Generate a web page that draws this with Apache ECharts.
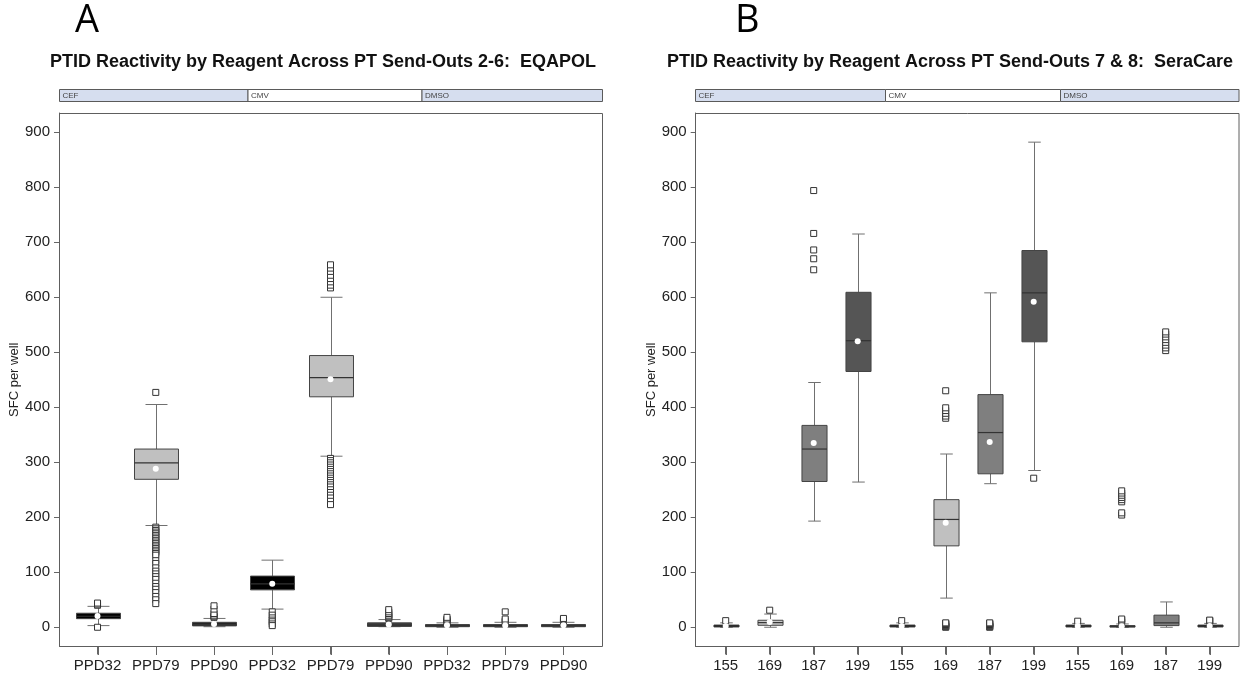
<!DOCTYPE html>
<html>
<head>
<meta charset="utf-8">
<script src="https://cdn.jsdelivr.net/npm/echarts@6/dist/echarts.min.js"></script>
<style>html,body{margin:0;padding:0;background:#fff}#c{width:1252px;height:682px}</style>
</head>
<body>
<div id="c"></div>
<script>
// ---------- DATA ----------
const catsA = ['PPD32','PPD79','PPD90','PPD32','PPD79','PPD90','PPD32','PPD79','PPD90'];
const catsB = ['155','169','187','199','155','169','187','199','155','169','187','199'];
const stripLabels = ['CEF','CMV','DMSO'];
const yTicks = [0,100,200,300,400,500,600,700,800,900];

// [low whisker, Q1, median, Q3, high whisker]
const boxesA = [
  [3, 15.6, 20, 25.5, 38],
  [185, 269, 299, 324, 405],
  [1, 2.5, 5, 9, 16],
  [33, 68, 79, 93, 122],
  [311, 419, 454, 494, 600],
  [1, 1.5, 4, 8, 14],
  [0, 1, 3, 5, 8],
  [0, 1, 2.5, 5, 9],
  [0, 1, 3, 5, 9]
];
const meansA = [20.5, 288, 6, 79, 451, 5, 3.5, 3, 3.5];
const outliersA = [
  [0, 40, 42, 44],
  [427, 182, 179, 176, 173, 170, 167, 164, 161, 158, 155, 152, 149, 146, 143, 140, 137, 134, 131, 121, 116, 108, 102, 97, 92, 87, 80, 74, 69, 63, 56, 50, 43],
  [18, 20, 22, 25, 33, 39],
  [28, 22, 17, 13, 10, 6, 3],
  [617, 622, 628, 634, 640, 647, 653, 659, 307, 303, 299, 295, 291, 287, 283, 279, 275, 271, 267, 263, 259, 255, 250, 245, 240, 235, 229, 223],
  [16, 18, 20, 22, 25, 28, 32],
  [9, 11, 13, 15, 18],
  [10, 12, 15, 28],
  [10, 12, 14, 16]
];

const boxesB = [
  [0, 0.5, 2, 4, 8],
  [0, 3.6, 8.4, 12.7, 24],
  [193, 265, 324, 367, 445],
  [264, 465, 521, 609, 715],
  [0, 0.5, 2, 4, 8],
  [53, 148, 196, 232, 315],
  [261, 279, 354, 423, 608],
  [285, 519, 608, 685, 882],
  [0, 0.5, 2, 4, 7],
  [0, 0.5, 1.5, 3, 6],
  [0, 3, 8, 22, 46],
  [0, 0.5, 2, 4, 7]
];
const meansB = [2.5, 9.6, 335, 520, 2.5, 190, 337, 592, 2.5, 2, null, 2.5];
const outliersB = [
  [12],
  [31],
  [650, 670, 686, 716, 794],
  [],
  [12],
  [0, 1, 2, 3, 5, 6, 7, 8, 380, 384, 389, 394, 399, 430],
  [0, 1, 2, 3, 5, 6, 7, 8],
  [271],
  [11],
  [10, 13, 15, 204, 208, 228, 232, 236, 240, 244, 248],
  [503, 508, 513, 518, 523, 528, 533, 537],
  [11, 12, 13]
];

// ---------- STYLE ----------
const fillA = ['#000000','#c0c0c0','#262626','#000000','#c0c0c0','#3c3c3c','#000000','#262626','#000000'];
const fillB = ['#000000','#c8c8c8','#7f7f7f','#555555','#000000','#c0c0c0','#7f7f7f','#555555','#000000','#000000','#7f7f7f','#000000'];
const FONT = 'Liberation Sans, Arial, sans-serif';
const FRAME = '#5e5e5e';

function boxRender(fills, ratio) {
  return function (params, api) {
    const i = api.value(0);
    const lo = api.coord([i, api.value(1)]);
    const q1 = api.coord([i, api.value(2)]);
    const md = api.coord([i, api.value(3)]);
    const q3 = api.coord([i, api.value(4)]);
    const hi = api.coord([i, api.value(5)]);
    const band = api.size([1, 0])[0];
    const w = band * ratio, cw = w / 2;
    const x = Math.round(lo[0]) + 0.5;
    const wc = '#707070';
    const h = Math.max(q1[1] - q3[1], 1.5);
    return {
      type: 'group',
      children: [
        {type: 'line', shape: {x1: x, y1: hi[1], x2: x, y2: q3[1]}, style: {stroke: wc, lineWidth: 1}},
        {type: 'line', shape: {x1: x, y1: q1[1], x2: x, y2: lo[1]}, style: {stroke: wc, lineWidth: 1}},
        {type: 'line', shape: {x1: x - cw / 2, y1: hi[1], x2: x + cw / 2, y2: hi[1]}, style: {stroke: wc, lineWidth: 1}},
        {type: 'line', shape: {x1: x - cw / 2, y1: lo[1], x2: x + cw / 2, y2: lo[1]}, style: {stroke: wc, lineWidth: 1}},
        {type: 'rect', shape: {x: x - w / 2, y: q3[1], width: w, height: h}, style: {fill: fills[params.dataIndex], stroke: '#444', lineWidth: 1}},
        {type: 'line', shape: {x1: x - w / 2, y1: md[1], x2: x + w / 2, y2: md[1]}, style: {stroke: '#333', lineWidth: 1.2}}
      ]
    };
  };
}

function boxData(boxes) { return boxes.map((b, i) => [i].concat(b)); }
function outData(outs) { const r = []; outs.forEach((arr, i) => arr.forEach(v => r.push([i, v]))); return r; }
function meanData(means) { const r = []; means.forEach((m, i) => { if (m !== null) r.push([i, m]); }); return r; }

function xAxisCfg(cats, gi) {
  return {
    type: 'category', gridIndex: gi, data: cats, boundaryGap: true, position: 'bottom',
    axisLine: {show: true, onZero: false, lineStyle: {color: FRAME, width: 1}},
    axisTick: {show: true, interval: 0, inside: false, alignWithLabel: true, length: 8, lineStyle: {color: '#666'}},
    axisLabel: {interval: 0, fontSize: 15, color: '#222', fontFamily: FONT, margin: 12, hideOverlap: false},
    splitLine: {show: false}
  };
}
function yAxisCfg(gi, offset, gap) {
  return {
    type: 'value', gridIndex: gi, min: -35, max: 935, offset: offset,
    name: 'SFC per well', nameLocation: 'middle', nameGap: gap,
    nameTextStyle: {fontSize: 13, color: '#222', fontFamily: FONT},
    axisLine: {show: true, onZero: false, lineStyle: {color: FRAME, width: 1}},
    axisTick: {show: true, length: 5, lineStyle: {color: '#666'}, customValues: yTicks},
    axisLabel: {fontSize: 15, color: '#222', fontFamily: FONT, margin: 9, customValues: yTicks,
      formatter: v => (yTicks.indexOf(v) >= 0 ? String(v) : '')},
    splitLine: {show: false}
  };
}

function strip(x0, x1, d1, d2) {
  const segs = [[x0, d1], [d1, d2], [d2, x1]];
  const fills = ['#d6deef', '#ffffff', '#d6deef'];
  const els = [];
  segs.forEach((s, k) => {
    els.push({type: 'rect', shape: {x: s[0], y: 89.5, width: s[1] - s[0], height: 12}, style: {fill: fills[k], stroke: '#5a5a5a', lineWidth: 1}, z: 10});
    els.push({type: 'text', x: s[0] + 3, y: 95.5, style: {text: stripLabels[k], fontSize: 8, fill: '#444', fontFamily: FONT, verticalAlign: 'middle'}, z: 11});
  });
  return els;
}

const chart = echarts.init(document.getElementById('c'), null, {renderer: 'canvas'});
const baseGraphic = [
  {type: 'text', x: 75, y: 2, style: {text: 'A', fontSize: 38, fill: '#000', fontFamily: 'Open Sans, Liberation Sans, sans-serif'}},
  {type: 'text', x: 735, y: 2, style: {text: 'B', fontSize: 38, fill: '#000', fontFamily: 'Open Sans, Liberation Sans, sans-serif'}},
  {type: 'rect', shape: {x: 59.5, y: 113.5, width: 543, height: 533}, style: {fill: 'none', stroke: FRAME, lineWidth: 1}, z: 1},
  {type: 'rect', shape: {x: 695.5, y: 113.5, width: 543.5, height: 533}, style: {fill: 'none', stroke: FRAME, lineWidth: 1}, z: 1}
].concat(strip(59.5, 602.5, 248, 422)).concat(strip(695.5, 1239, 885.5, 1060.5));

const option = {
  animation: false,
  backgroundColor: '#fff',
  title: [
    {text: 'PTID Reactivity by Reagent Across PT Send-Outs 2-6:  EQAPOL', left: 318, top: 48, textAlign: 'center',
     textStyle: {fontSize: 18, fontWeight: 'bold', color: '#111', fontFamily: FONT}},
    {text: 'PTID Reactivity by Reagent Across PT Send-Outs 7 & 8:  SeraCare', left: 945, top: 48, textAlign: 'center',
     textStyle: {fontSize: 18, fontWeight: 'bold', color: '#111', fontFamily: FONT}}
  ],
  grid: [
    {left: 68.4, top: 113, width: 524.2, height: 533.5, containLabel: false},
    {left: 703.7, top: 113, width: 528, height: 533.5, containLabel: false}
  ],
  xAxis: [xAxisCfg(catsA, 0), xAxisCfg(catsB, 1)],
  yAxis: [yAxisCfg(0, 9.4, 35), yAxisCfg(1, 8, 32)],
  series: [
    {type: 'custom', xAxisIndex: 0, yAxisIndex: 0, renderItem: boxRender(fillA, 0.755), data: boxData(boxesA), encode: {x: 0, y: [1, 2, 3, 4, 5]}, z: 2},
    {type: 'custom', xAxisIndex: 1, yAxisIndex: 1, renderItem: boxRender(fillB, 0.57), data: boxData(boxesB), encode: {x: 0, y: [1, 2, 3, 4, 5]}, z: 2},
    {type: 'scatter', xAxisIndex: 0, yAxisIndex: 0, data: outData(outliersA), symbol: 'rect', symbolSize: 6,
     itemStyle: {color: '#fff', borderColor: '#333', borderWidth: 1, opacity: 1}, z: 3, clip: false},
    {type: 'scatter', xAxisIndex: 1, yAxisIndex: 1, data: outData(outliersB), symbol: 'rect', symbolSize: 6,
     itemStyle: {color: '#fff', borderColor: '#333', borderWidth: 1, opacity: 1}, z: 3, clip: false},
    {type: 'scatter', xAxisIndex: 0, yAxisIndex: 0, data: meanData(meansA), symbol: 'circle', symbolSize: 6,
     itemStyle: {color: '#fff', borderWidth: 0, opacity: 1}, z: 4},
    {type: 'scatter', xAxisIndex: 1, yAxisIndex: 1, data: meanData(meansB), symbol: 'circle', symbolSize: 6,
     itemStyle: {color: '#fff', borderWidth: 0, opacity: 1}, z: 4}
  ],
  graphic: baseGraphic
};
chart.setOption(option);

// category tick marks below each panel, placed through the axes' own scales
const tickEls = [];
[[0, catsA], [1, catsB]].forEach(function (pair) {
  const gi = pair[0];
  pair[1].forEach(function (c, i) {
    const p = chart.convertToPixel({xAxisIndex: gi, yAxisIndex: gi}, [i, -35]);
    const x = Math.round(p[0]) + 0.5;
    tickEls.push({type: 'line', shape: {x1: x, y1: p[1] + 0.5, x2: x, y2: p[1] + 8.5}, style: {stroke: '#666', lineWidth: 1}, z: 5});
  });
});
chart.setOption({graphic: baseGraphic.concat(tickEls)});
</script>
</body>
</html>
